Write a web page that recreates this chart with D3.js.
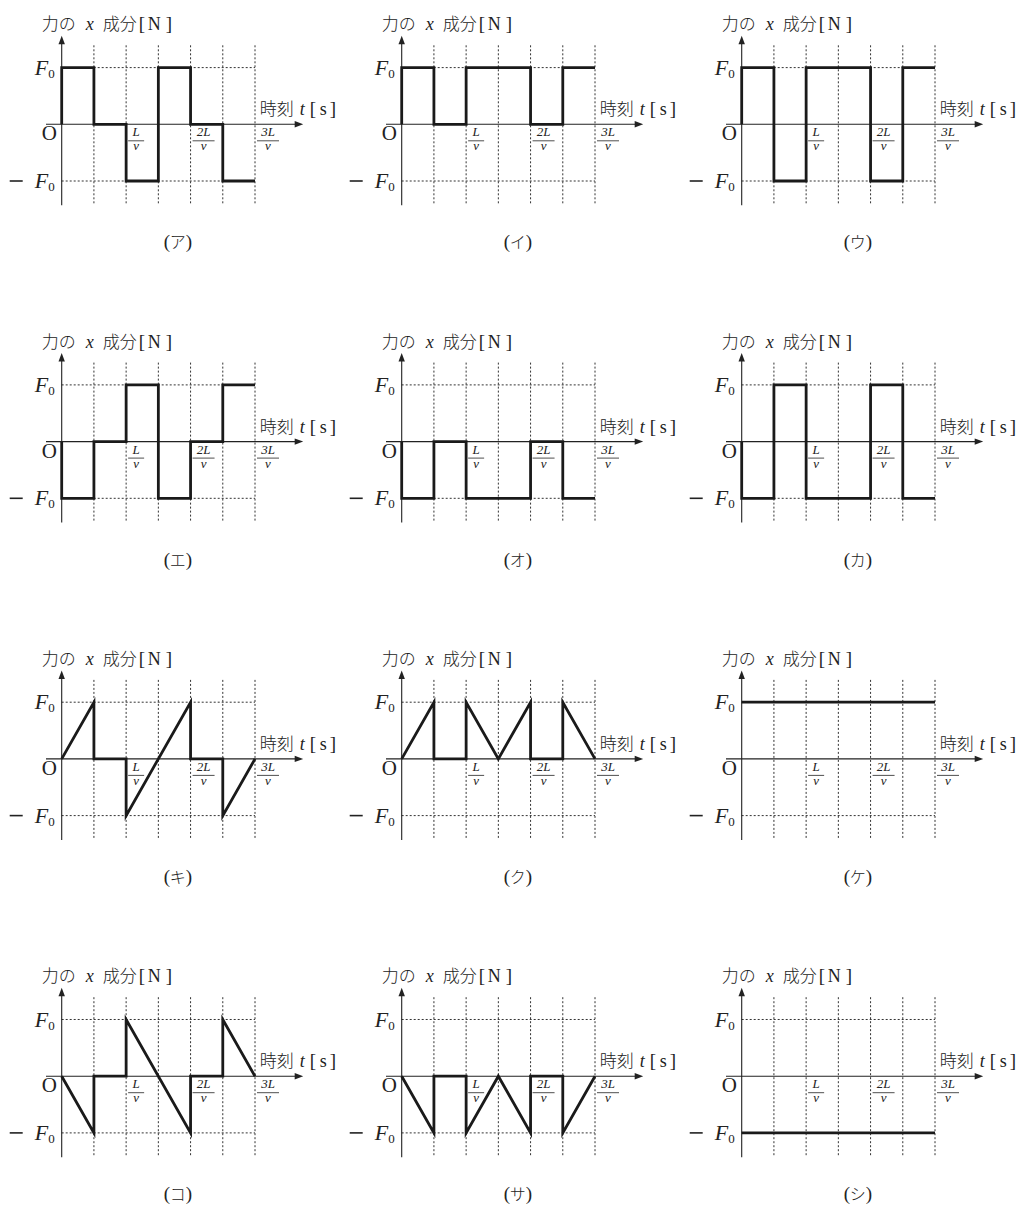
<!DOCTYPE html>
<html>
<head>
<meta charset="utf-8">
<script src="https://cdn.jsdelivr.net/npm/d3@7"></script>
<style>
  body { margin: 0; background: #fff; }
  svg text { font-family: "Liberation Serif", "Noto Sans CJK JP", serif; fill: #222; }
  .cjk { font-family: "Noto Sans CJK JP", sans-serif; font-weight: 300; }
</style>
</head>
<body>
<div id="chart"></div>
<script>
// panel captions, in reading order
const captions = ["ア", "イ", "ウ", "エ", "オ", "カ", "キ", "ク", "ケ", "コ", "サ", "シ"];

// force curves: [t in grid steps (L/2v), force in units of F0]
const forceA  = [[0,0],[0,1],[1,1],[1,0],[2,0],[2,-1],[3,-1],[3,1],[4,1],[4,0],[5,0],[5,-1],[6,-1]];
const forceI  = [[0,0],[0,1],[1,1],[1,0],[2,0],[2,1],[4,1],[4,0],[5,0],[5,1],[6,1]];
const forceU  = [[0,0],[0,1],[1,1],[1,-1],[2,-1],[2,1],[4,1],[4,-1],[5,-1],[5,1],[6,1]];
const forceE  = [[0,0],[0,-1],[1,-1],[1,0],[2,0],[2,1],[3,1],[3,-1],[4,-1],[4,0],[5,0],[5,1],[6,1]];
const forceO  = [[0,0],[0,-1],[1,-1],[1,0],[2,0],[2,-1],[4,-1],[4,0],[5,0],[5,-1],[6,-1]];
const forceKa = [[0,0],[0,-1],[1,-1],[1,1],[2,1],[2,-1],[4,-1],[4,1],[5,1],[5,-1],[6,-1]];
const forceKi = [[0,0],[1,1],[1,0],[2,0],[2,-1],[4,1],[4,0],[5,0],[5,-1],[6,0]];
const forceKu = [[0,0],[1,1],[1,0],[2,0],[2,1],[3,0],[4,1],[4,0],[5,0],[5,1],[6,0]];
const forceKe = [[0,1],[6,1]];
const forceKo = [[0,0],[1,-1],[1,0],[2,0],[2,1],[4,-1],[4,0],[5,0],[5,1],[6,0]];
const forceSa = [[0,0],[1,-1],[1,0],[2,0],[2,-1],[3,0],[4,-1],[4,0],[5,0],[5,-1],[6,0]];
const forceShi = [[0,-1],[6,-1]];

const curves = [forceA, forceI, forceU, forceE, forceO, forceKa,
                forceKi, forceKu, forceKe, forceKo, forceSa, forceShi];

// time axis ticks
const gridSteps = [1, 2, 3, 4, 5, 6];
const tickValues = [2, 4, 6];
const tickNumerators = ["L", "2L", "3L"];
const tickDenominator = "v";

const width = 1021, height = 1213;
const colX = [61.7, 401.7, 741.7];
const rowY = [124.3, 441.6, 758.9, 1076.2];
const plotW = 193.3, halfH = 56.7;

const svg = d3.select("#chart").append("svg")
  .attr("width", width).attr("height", height)
  .attr("viewBox", [0, 0, width, height]);

const x = d3.scaleLinear([0, 6], [0, plotW]);
const y = d3.scaleLinear([-1, 1], [halfH, -halfH]);

const line = d3.line().x(d => x(d[0])).y(d => y(d[1]));

curves.forEach((data, i) => {
  const g = svg.append("g")
    .attr("transform", `translate(${colX[i % 3]},${rowY[Math.floor(i / 3)]})`);

  // dotted grid
  g.selectAll(".vgrid").data(gridSteps).join("line")
    .attr("x1", d => x(d)).attr("x2", d => x(d))
    .attr("y1", -79).attr("y2", 81)
    .attr("stroke", "#333").attr("stroke-width", 1)
    .attr("stroke-dasharray", "2,2");
  g.selectAll(".hgrid").data([1, -1]).join("line")
    .attr("x1", 0).attr("x2", x(6))
    .attr("y1", d => y(d)).attr("y2", d => y(d))
    .attr("stroke", "#333").attr("stroke-width", 1)
    .attr("stroke-dasharray", "2,2");

  // axes
  g.append("line").attr("x1", -15.7).attr("x2", 236).attr("y1", 0).attr("y2", 0)
    .attr("stroke", "#222").attr("stroke-width", 1.1);
  g.append("path").attr("d", "M241.5,0 L233,-3.2 L233,3.2 Z").attr("fill", "#222");
  g.append("line").attr("x1", 0).attr("x2", 0).attr("y1", 81).attr("y2", -82)
    .attr("stroke", "#222").attr("stroke-width", 1.1);
  g.append("path").attr("d", "M0,-88.5 L-3.2,-80 L3.2,-80 Z").attr("fill", "#222");

  // curve
  g.append("path").datum(data)
    .attr("d", line)
    .attr("fill", "none")
    .attr("stroke", "#1a1a1a")
    .attr("stroke-width", 2.8)
    .attr("stroke-linejoin", "miter")
    .attr("stroke-linecap", "butt");

  // y-axis title
  const t = g.append("text").attr("y", -94).attr("font-size", 17);
  t.append("tspan").attr("x", -20).attr("class", "cjk").text("力の");
  t.append("tspan").attr("x", 24).attr("font-style", "italic").attr("font-size", 18).text("x");
  t.append("tspan").attr("x", 41).attr("class", "cjk").text("成分");
  t.append("tspan").attr("x", 77).attr("font-size", 19).text("[");
  t.append("tspan").attr("x", 86).attr("font-size", 18).text("N");
  t.append("tspan").attr("x", 104).attr("font-size", 19).text("]");

  // x-axis title
  const tx = g.append("text").attr("y", -9).attr("font-size", 17);
  tx.append("tspan").attr("x", 198).attr("class", "cjk").text("時刻");
  tx.append("tspan").attr("x", 238).attr("font-style", "italic").attr("font-size", 18).text("t");
  tx.append("tspan").attr("x", 248).attr("font-size", 19).text("[");
  tx.append("tspan").attr("x", 258).attr("font-size", 18).text("s");
  tx.append("tspan").attr("x", 268).attr("font-size", 19).text("]");

  // y labels
  const f0 = g.append("text").attr("x", -27).attr("y", y(1) + 7).attr("font-size", 22);
  f0.append("tspan").attr("font-style", "italic").text("F");
  f0.append("tspan").attr("font-size", 13).attr("dy", 3).text("0");

  g.append("text").attr("x", -20).attr("y", 16).attr("font-size", 21).text("O");

  g.append("line").attr("x1", -52).attr("x2", -39).attr("y1", y(-1)).attr("y2", y(-1))
    .attr("stroke", "#222").attr("stroke-width", 1.6);
  const mf0 = g.append("text").attr("x", -27).attr("y", y(-1) + 7).attr("font-size", 22);
  mf0.append("tspan").attr("font-style", "italic").text("F");
  mf0.append("tspan").attr("font-size", 13).attr("dy", 3).text("0");

  // fraction tick labels
  const ticks = g.selectAll(".tick").data(tickValues).join("g")
    .attr("transform", d => `translate(${x(d) + 2},0)`);
  ticks.append("text")
    .attr("x", (d, k) => (k === 0 ? 8 : 11)).attr("y", 12)
    .attr("text-anchor", "middle").attr("font-size", 13).attr("font-style", "italic")
    .text((d, k) => tickNumerators[k]);
  ticks.append("line")
    .attr("x1", 0).attr("x2", (d, k) => (k === 0 ? 16 : 22))
    .attr("y1", 16.5).attr("y2", 16.5)
    .attr("stroke", "#222").attr("stroke-width", 0.8);
  ticks.append("text")
    .attr("x", (d, k) => (k === 0 ? 8 : 11)).attr("y", 26)
    .attr("text-anchor", "middle").attr("font-size", 13).attr("font-style", "italic")
    .text(tickDenominator);

  // caption
  const cap = g.append("text").attr("y", 124).attr("font-size", 19);
  cap.append("tspan").attr("x", 102).text("(");
  cap.append("tspan").attr("x", 108).attr("class", "cjk").attr("font-size", 16).text(captions[i]);
  cap.append("tspan").attr("x", 124).text(")");
});
</script>
</body>
</html>
